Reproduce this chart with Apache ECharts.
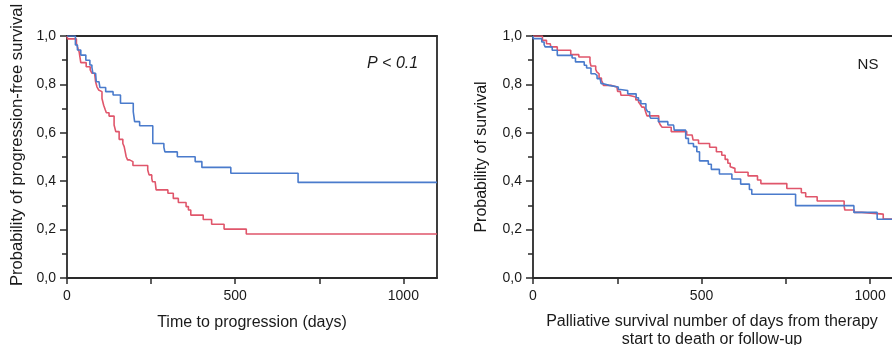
<!DOCTYPE html>
<html>
<head>
<meta charset="utf-8">
<script src="https://cdn.jsdelivr.net/npm/echarts/dist/echarts.min.js"></script>
<style>html,body{margin:0;padding:0;background:#fff}#c{width:892px;height:345px}</style>
</head>
<body>
<div id="c"></div>
<script>
// ---- Data: left panel (time to progression) ----
const pfsBlueDays = [0,25,31,41,56,68,74,77,85,87,95,98,115,137,159,197,199,201,216,255,288,291,328,381,401,487,687,1100];
const pfsBlueProb = [1,0.963,0.942,0.921,0.90,0.88,0.87,0.846,0.839,0.811,0.804,0.787,0.77,0.756,0.722,0.687,0.667,0.646,0.629,0.556,0.540,0.521,0.501,0.481,0.457,0.433,0.395,0.395];
const pfsRedDays = [0,2,28,32,36,41,57,69,74,82,85,89,94,99,104,109,114,117,125,140,145,155,166,170,173,176,180,186,196,240,244,252,254,262,265,300,316,331,354,361,368,405,430,467,533,1100];
const pfsRedProb = [1,0.988,0.97,0.95,0.935,0.89,0.873,0.86,0.846,0.839,0.811,0.79,0.777,0.77,0.742,0.714,0.694,0.683,0.669,0.632,0.605,0.573,0.556,0.543,0.522,0.501,0.488,0.481,0.465,0.446,0.426,0.412,0.398,0.391,0.364,0.350,0.329,0.312,0.295,0.281,0.260,0.242,0.222,0.202,0.182,0.182];

// ---- Data: right panel (palliative survival) ----
const osBlueDays = [0,1,26,33,36,57,72,116,126,152,159,172,184,190,199,202,209,226,253,259,281,306,313,320,335,340,346,349,372,400,417,419,453,461,476,486,494,520,529,553,590,616,642,649,779,952,1021,1065];
const osBlueProb = [1,0.989,0.975,0.964,0.955,0.941,0.92,0.909,0.893,0.879,0.868,0.844,0.837,0.824,0.817,0.803,0.796,0.789,0.779,0.775,0.761,0.745,0.733,0.72,0.70,0.687,0.67,0.66,0.646,0.632,0.625,0.611,0.577,0.556,0.543,0.522,0.484,0.47,0.449,0.43,0.409,0.388,0.366,0.346,0.299,0.271,0.243,0.243];
const osRedDays = [0,28,40,51,53,72,112,136,169,172,186,189,193,196,203,206,209,231,249,251,259,261,284,305,313,318,323,330,334,338,373,378,383,410,456,472,475,491,524,544,560,570,578,585,590,599,638,666,676,753,796,809,843,923,925,953,975,1039,1065];
const osRedProb = [1,0.982,0.968,0.962,0.955,0.941,0.923,0.913,0.893,0.876,0.862,0.852,0.844,0.826,0.817,0.808,0.796,0.789,0.782,0.771,0.766,0.755,0.748,0.736,0.727,0.718,0.706,0.70,0.687,0.67,0.646,0.632,0.623,0.605,0.591,0.585,0.570,0.556,0.540,0.522,0.507,0.490,0.474,0.46,0.453,0.437,0.422,0.405,0.390,0.370,0.352,0.336,0.318,0.297,0.281,0.271,0.264,0.244,0.244];

// ---- Axis ticks / labels ----
const xTickValues = [0,250,500,750,1000];
const xLabelValues = [0,500,1000];
const leftXMax = 1100, rightXMax = 1065;

const texts = {
  leftY: 'Probability of progression-free survival',
  leftX: 'Time to progression (days)',
  rightY: 'Probability of survival',
  rightX: 'Palliative survival number of days from therapy\nstart to death or follow-up',
  leftNote: 'P < 0.1',
  rightNote: 'NS'
};

const RED = '#e0566b', BLUE = '#4a7bcc', AX = '#2a2a2a', TXT = '#1a1a1a';
const FONT = '"Liberation Sans", Arial, Helvetica, sans-serif';
const zip = (a, b) => a.map((v, i) => [v, b[i]]);
const axisLine = {show: true, onZero: false, lineStyle: {color: AX, width: 1.8}};

function xAxisMain(gi, max) {
  return {
    gridIndex: gi, type: 'value', min: 0, max: max, position: 'bottom',
    axisLine: axisLine,
    axisTick: {show: true, length: 6, customValues: xTickValues, lineStyle: {color: AX, width: 1.5}},
    axisLabel: {customValues: xLabelValues, fontSize: 14, color: TXT, fontFamily: FONT, margin: 11,
      formatter: v => String(v)},
    splitLine: {show: false}
  };
}
function xAxisTop(gi, max) {
  return {gridIndex: gi, type: 'value', min: 0, max: max, position: 'top',
    axisLine: axisLine, axisTick: {show: false}, axisLabel: {show: false}, splitLine: {show: false}};
}
function yAxisMain(gi) {
  return {
    gridIndex: gi, type: 'value', min: 0, max: 1, interval: 0.2, position: 'left',
    axisLine: axisLine,
    axisTick: {show: true, length: 7, lineStyle: {color: AX, width: 1.5}},
    minorTick: {show: true, splitNumber: 2, length: 5, lineStyle: {color: AX, width: 1.5}},
    axisLabel: {fontSize: 14, color: TXT, fontFamily: FONT, margin: 11,
      formatter: v => v.toFixed(1).replace('.', ',')},
    splitLine: {show: false}, minorSplitLine: {show: false}
  };
}

const lineSeries = (xi, yi, data, color) => ({
  type: 'line', xAxisIndex: xi, yAxisIndex: yi, step: 'end', showSymbol: false,
  symbol: 'none', silent: true, animation: false,
  lineStyle: {color: color, width: 1.6}, data: data
});

const chart = echarts.init(document.getElementById('c'), null, {renderer: 'canvas'});
chart.setOption({
  animation: false,
  grid: [
    {left: 67, top: 36, width: 370, height: 242},
    {left: 533, top: 36, width: 359, height: 242}
  ],
  xAxis: [xAxisMain(0, leftXMax), xAxisMain(1, rightXMax), xAxisTop(0, leftXMax), xAxisTop(1, rightXMax)],
  yAxis: [yAxisMain(0), yAxisMain(1),
    {gridIndex: 0, type: 'value', min: 0, max: 1, position: 'right', axisLine: axisLine,
     axisTick: {show: false}, axisLabel: {show: false}, splitLine: {show: false}}],
  series: [
    lineSeries(0, 0, zip(pfsRedDays, pfsRedProb), RED),
    lineSeries(0, 0, zip(pfsBlueDays, pfsBlueProb), BLUE),
    lineSeries(1, 1, zip(osRedDays, osRedProb), RED),
    lineSeries(1, 1, zip(osBlueDays, osBlueProb), BLUE)
  ],
  graphic: [
    {type: 'text', x: 17, y: 145, rotation: Math.PI / 2,
     style: {text: texts.leftY, font: '16.6px ' + FONT, fill: TXT, align: 'center', verticalAlign: 'middle'}},
    {type: 'text', x: 482, y: 157, rotation: Math.PI / 2,
     style: {text: texts.rightY, font: '16px ' + FONT, fill: TXT, align: 'center', verticalAlign: 'middle'}},
    {type: 'text', x: 252, y: 323,
     style: {text: texts.leftX, font: '16px ' + FONT, fill: TXT, align: 'center', verticalAlign: 'middle'}},
    {type: 'text', x: 712, y: 331,
     style: {text: texts.rightX, font: '16px ' + FONT, fill: TXT, align: 'center', verticalAlign: 'middle', lineHeight: 18}},
    {type: 'text', x: 367, y: 64,
     style: {text: texts.leftNote, font: 'italic 16px ' + FONT, fill: TXT, align: 'left', verticalAlign: 'middle'}},
    {type: 'text', x: 868, y: 65,
     style: {text: texts.rightNote, font: '15px ' + FONT, fill: TXT, align: 'center', verticalAlign: 'middle'}}
  ]
});
</script>
</body>
</html>
